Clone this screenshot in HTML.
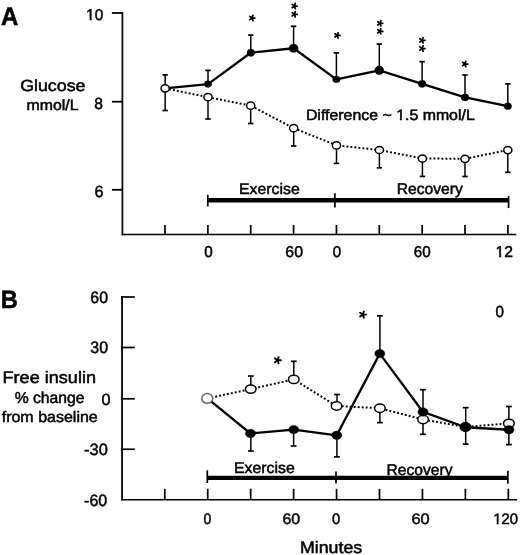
<!DOCTYPE html>
<html><head><meta charset="utf-8"><title>Figure</title><style>
html,body{margin:0;padding:0;background:#fff;}
svg{display:block;will-change:transform;}
text{font-family:"Liberation Sans",sans-serif;fill:#000;stroke:#000;stroke-width:0.5px;text-rendering:geometricPrecision;}
</style></head><body>
<svg width="520" height="555" viewBox="0 0 520 555">
<rect width="520" height="555" fill="#fff"/>
<line x1="122.40" y1="12.10" x2="122.40" y2="235.30" stroke="#000" stroke-width="1.7" stroke-linecap="butt"/>
<line x1="111.90" y1="13.00" x2="122.40" y2="13.00" stroke="#000" stroke-width="1.8" stroke-linecap="butt"/>
<line x1="111.90" y1="101.70" x2="122.40" y2="101.70" stroke="#000" stroke-width="1.8" stroke-linecap="butt"/>
<line x1="111.90" y1="189.80" x2="122.40" y2="189.80" stroke="#000" stroke-width="1.8" stroke-linecap="butt"/>
<line x1="121.55" y1="234.50" x2="516.30" y2="234.50" stroke="#000" stroke-width="1.6" stroke-linecap="butt"/>
<line x1="165.00" y1="225.00" x2="165.00" y2="234.50" stroke="#000" stroke-width="1.7" stroke-linecap="butt"/>
<line x1="207.86" y1="225.00" x2="207.86" y2="234.50" stroke="#000" stroke-width="1.7" stroke-linecap="butt"/>
<line x1="250.72" y1="225.00" x2="250.72" y2="234.50" stroke="#000" stroke-width="1.7" stroke-linecap="butt"/>
<line x1="293.58" y1="225.00" x2="293.58" y2="234.50" stroke="#000" stroke-width="1.7" stroke-linecap="butt"/>
<line x1="336.44" y1="225.00" x2="336.44" y2="234.50" stroke="#000" stroke-width="1.7" stroke-linecap="butt"/>
<line x1="379.30" y1="225.00" x2="379.30" y2="234.50" stroke="#000" stroke-width="1.7" stroke-linecap="butt"/>
<line x1="422.16" y1="225.00" x2="422.16" y2="234.50" stroke="#000" stroke-width="1.7" stroke-linecap="butt"/>
<line x1="465.02" y1="225.00" x2="465.02" y2="234.50" stroke="#000" stroke-width="1.7" stroke-linecap="butt"/>
<line x1="507.88" y1="225.00" x2="507.88" y2="234.50" stroke="#000" stroke-width="1.7" stroke-linecap="butt"/>
<line x1="207.80" y1="200.30" x2="508.60" y2="200.30" stroke="#000" stroke-width="4.5" stroke-linecap="butt"/>
<line x1="207.80" y1="194.80" x2="207.80" y2="206.50" stroke="#000" stroke-width="1.7" stroke-linecap="butt"/>
<line x1="334.90" y1="193.20" x2="334.90" y2="207.60" stroke="#000" stroke-width="1.7" stroke-linecap="butt"/>
<line x1="508.60" y1="196.10" x2="508.60" y2="208.10" stroke="#000" stroke-width="1.7" stroke-linecap="butt"/>
<line x1="165.15" y1="88.35" x2="165.15" y2="110.50" stroke="#000" stroke-width="1.5" stroke-linecap="butt"/>
<line x1="162.45" y1="110.50" x2="167.85" y2="110.50" stroke="#000" stroke-width="1.7" stroke-linecap="butt"/>
<line x1="208.00" y1="97.20" x2="208.00" y2="119.00" stroke="#000" stroke-width="1.5" stroke-linecap="butt"/>
<line x1="205.30" y1="119.00" x2="210.70" y2="119.00" stroke="#000" stroke-width="1.7" stroke-linecap="butt"/>
<line x1="250.70" y1="105.65" x2="250.70" y2="123.50" stroke="#000" stroke-width="1.5" stroke-linecap="butt"/>
<line x1="248.00" y1="123.50" x2="253.40" y2="123.50" stroke="#000" stroke-width="1.7" stroke-linecap="butt"/>
<line x1="293.70" y1="128.15" x2="293.70" y2="146.00" stroke="#000" stroke-width="1.5" stroke-linecap="butt"/>
<line x1="291.00" y1="146.00" x2="296.40" y2="146.00" stroke="#000" stroke-width="1.7" stroke-linecap="butt"/>
<line x1="336.50" y1="145.40" x2="336.50" y2="163.40" stroke="#000" stroke-width="1.5" stroke-linecap="butt"/>
<line x1="333.80" y1="163.40" x2="339.20" y2="163.40" stroke="#000" stroke-width="1.7" stroke-linecap="butt"/>
<line x1="379.40" y1="150.00" x2="379.40" y2="167.80" stroke="#000" stroke-width="1.5" stroke-linecap="butt"/>
<line x1="376.70" y1="167.80" x2="382.10" y2="167.80" stroke="#000" stroke-width="1.7" stroke-linecap="butt"/>
<line x1="422.40" y1="158.50" x2="422.40" y2="176.40" stroke="#000" stroke-width="1.5" stroke-linecap="butt"/>
<line x1="419.70" y1="176.40" x2="425.10" y2="176.40" stroke="#000" stroke-width="1.7" stroke-linecap="butt"/>
<line x1="465.00" y1="158.80" x2="465.00" y2="176.50" stroke="#000" stroke-width="1.5" stroke-linecap="butt"/>
<line x1="462.30" y1="176.50" x2="467.70" y2="176.50" stroke="#000" stroke-width="1.7" stroke-linecap="butt"/>
<line x1="507.80" y1="150.05" x2="507.80" y2="172.30" stroke="#000" stroke-width="1.5" stroke-linecap="butt"/>
<line x1="505.10" y1="172.30" x2="510.50" y2="172.30" stroke="#000" stroke-width="1.7" stroke-linecap="butt"/>
<line x1="165.15" y1="88.35" x2="165.15" y2="74.90" stroke="#000" stroke-width="1.5" stroke-linecap="butt"/>
<line x1="162.45" y1="74.90" x2="167.85" y2="74.90" stroke="#000" stroke-width="1.7" stroke-linecap="butt"/>
<line x1="208.00" y1="84.10" x2="208.00" y2="70.40" stroke="#000" stroke-width="1.5" stroke-linecap="butt"/>
<line x1="205.30" y1="70.40" x2="210.70" y2="70.40" stroke="#000" stroke-width="1.7" stroke-linecap="butt"/>
<line x1="250.80" y1="52.75" x2="250.80" y2="35.10" stroke="#000" stroke-width="1.5" stroke-linecap="butt"/>
<line x1="248.10" y1="35.10" x2="253.50" y2="35.10" stroke="#000" stroke-width="1.7" stroke-linecap="butt"/>
<line x1="293.60" y1="48.25" x2="293.60" y2="26.25" stroke="#000" stroke-width="1.5" stroke-linecap="butt"/>
<line x1="290.90" y1="26.25" x2="296.30" y2="26.25" stroke="#000" stroke-width="1.7" stroke-linecap="butt"/>
<line x1="336.40" y1="79.40" x2="336.40" y2="52.90" stroke="#000" stroke-width="1.5" stroke-linecap="butt"/>
<line x1="333.70" y1="52.90" x2="339.10" y2="52.90" stroke="#000" stroke-width="1.7" stroke-linecap="butt"/>
<line x1="379.30" y1="70.35" x2="379.30" y2="44.10" stroke="#000" stroke-width="1.5" stroke-linecap="butt"/>
<line x1="376.60" y1="44.10" x2="382.00" y2="44.10" stroke="#000" stroke-width="1.7" stroke-linecap="butt"/>
<line x1="422.10" y1="83.85" x2="422.10" y2="61.65" stroke="#000" stroke-width="1.5" stroke-linecap="butt"/>
<line x1="419.40" y1="61.65" x2="424.80" y2="61.65" stroke="#000" stroke-width="1.7" stroke-linecap="butt"/>
<line x1="465.00" y1="97.40" x2="465.00" y2="75.00" stroke="#000" stroke-width="1.5" stroke-linecap="butt"/>
<line x1="462.30" y1="75.00" x2="467.70" y2="75.00" stroke="#000" stroke-width="1.7" stroke-linecap="butt"/>
<line x1="507.80" y1="106.20" x2="507.80" y2="83.90" stroke="#000" stroke-width="1.5" stroke-linecap="butt"/>
<line x1="505.10" y1="83.90" x2="510.50" y2="83.90" stroke="#000" stroke-width="1.7" stroke-linecap="butt"/>
<polyline points="165.15,88.35 208.00,97.20 250.70,105.65 293.70,128.15 336.50,145.40 379.40,150.00 422.40,158.50 465.00,158.80 507.80,150.05" fill="none" stroke="#000" stroke-width="2.0" stroke-linejoin="round" stroke-dasharray="1.9 2.1" stroke-linecap="butt"/>
<polyline points="165.15,88.35 208.00,84.10 250.80,52.75 293.60,48.25 336.40,79.40 379.30,70.35 422.10,83.85 465.00,97.40 507.80,106.20" fill="none" stroke="#000" stroke-width="2.3" stroke-linejoin="round" />
<ellipse cx="165.15" cy="88.35" rx="4.10" ry="3.60" fill="#fff" stroke="#000" stroke-width="1.5"/>
<ellipse cx="208.00" cy="97.20" rx="4.10" ry="3.60" fill="#fff" stroke="#000" stroke-width="1.5"/>
<ellipse cx="250.70" cy="105.65" rx="4.10" ry="3.60" fill="#fff" stroke="#000" stroke-width="1.5"/>
<ellipse cx="293.70" cy="128.15" rx="4.10" ry="3.60" fill="#fff" stroke="#000" stroke-width="1.5"/>
<ellipse cx="336.50" cy="145.40" rx="4.10" ry="3.60" fill="#fff" stroke="#000" stroke-width="1.5"/>
<ellipse cx="379.40" cy="150.00" rx="4.10" ry="3.60" fill="#fff" stroke="#000" stroke-width="1.5"/>
<ellipse cx="422.40" cy="158.50" rx="4.10" ry="3.60" fill="#fff" stroke="#000" stroke-width="1.5"/>
<ellipse cx="465.00" cy="158.80" rx="4.10" ry="3.60" fill="#fff" stroke="#000" stroke-width="1.5"/>
<ellipse cx="507.80" cy="150.05" rx="4.10" ry="3.60" fill="#fff" stroke="#000" stroke-width="1.5"/>
<ellipse cx="208.00" cy="84.10" rx="3.75" ry="3.40" fill="#000" stroke="#000" stroke-width="0.3"/>
<ellipse cx="250.80" cy="52.75" rx="3.85" ry="3.70" fill="#000" stroke="#000" stroke-width="0.3"/>
<ellipse cx="293.60" cy="48.25" rx="4.60" ry="4.30" fill="#000" stroke="#000" stroke-width="0.3"/>
<ellipse cx="336.40" cy="79.40" rx="3.80" ry="3.30" fill="#000" stroke="#000" stroke-width="0.3"/>
<ellipse cx="379.30" cy="70.35" rx="4.50" ry="4.50" fill="#000" stroke="#000" stroke-width="0.3"/>
<ellipse cx="422.10" cy="83.85" rx="3.90" ry="3.70" fill="#000" stroke="#000" stroke-width="0.3"/>
<ellipse cx="465.00" cy="97.40" rx="3.90" ry="3.55" fill="#000" stroke="#000" stroke-width="0.3"/>
<ellipse cx="507.80" cy="106.20" rx="3.85" ry="3.40" fill="#000" stroke="#000" stroke-width="0.3"/>
<path d="M252.10,18.00L254.90,18.00M252.10,18.00L252.97,15.34M252.10,18.00L249.83,16.35M252.10,18.00L249.83,19.65M252.10,18.00L252.97,20.66" stroke="#000" stroke-width="1.75" stroke-linecap="round" fill="none"/>
<path d="M294.40,6.05L297.20,6.05M294.40,6.05L295.27,3.39M294.40,6.05L292.13,4.40M294.40,6.05L292.13,7.70M294.40,6.05L295.27,8.71" stroke="#000" stroke-width="1.75" stroke-linecap="round" fill="none"/>
<path d="M294.40,14.30L297.20,14.30M294.40,14.30L295.27,11.64M294.40,14.30L292.13,12.65M294.40,14.30L292.13,15.95M294.40,14.30L295.27,16.96" stroke="#000" stroke-width="1.75" stroke-linecap="round" fill="none"/>
<path d="M337.25,35.40L340.05,35.40M337.25,35.40L338.12,32.74M337.25,35.40L334.98,33.75M337.25,35.40L334.98,37.05M337.25,35.40L338.12,38.06" stroke="#000" stroke-width="1.75" stroke-linecap="round" fill="none"/>
<path d="M380.00,23.35L382.80,23.35M380.00,23.35L380.87,20.69M380.00,23.35L377.73,21.70M380.00,23.35L377.73,25.00M380.00,23.35L380.87,26.01" stroke="#000" stroke-width="1.75" stroke-linecap="round" fill="none"/>
<path d="M380.00,31.40L382.80,31.40M380.00,31.40L380.87,28.74M380.00,31.40L377.73,29.75M380.00,31.40L377.73,33.05M380.00,31.40L380.87,34.06" stroke="#000" stroke-width="1.75" stroke-linecap="round" fill="none"/>
<path d="M422.20,40.35L425.00,40.35M422.20,40.35L423.07,37.69M422.20,40.35L419.93,38.70M422.20,40.35L419.93,42.00M422.20,40.35L423.07,43.01" stroke="#000" stroke-width="1.75" stroke-linecap="round" fill="none"/>
<path d="M422.20,48.50L425.00,48.50M422.20,48.50L423.07,45.84M422.20,48.50L419.93,46.85M422.20,48.50L419.93,50.15M422.20,48.50L423.07,51.16" stroke="#000" stroke-width="1.75" stroke-linecap="round" fill="none"/>
<path d="M464.90,64.00L467.70,64.00M464.90,64.00L465.77,61.34M464.90,64.00L462.63,62.35M464.90,64.00L462.63,65.65M464.90,64.00L465.77,66.66" stroke="#000" stroke-width="1.75" stroke-linecap="round" fill="none"/>
<line x1="122.05" y1="296.20" x2="122.05" y2="500.50" stroke="#000" stroke-width="1.8" stroke-linecap="butt"/>
<line x1="121.15" y1="297.00" x2="134.80" y2="297.00" stroke="#000" stroke-width="1.7" stroke-linecap="butt"/>
<line x1="121.15" y1="347.50" x2="134.80" y2="347.50" stroke="#000" stroke-width="1.7" stroke-linecap="butt"/>
<line x1="121.15" y1="398.80" x2="134.80" y2="398.80" stroke="#000" stroke-width="1.7" stroke-linecap="butt"/>
<line x1="121.15" y1="449.25" x2="134.80" y2="449.25" stroke="#000" stroke-width="1.7" stroke-linecap="butt"/>
<line x1="121.15" y1="499.70" x2="517.10" y2="499.70" stroke="#000" stroke-width="1.6" stroke-linecap="butt"/>
<line x1="164.80" y1="488.80" x2="164.80" y2="499.70" stroke="#000" stroke-width="1.7" stroke-linecap="butt"/>
<line x1="207.74" y1="488.80" x2="207.74" y2="499.70" stroke="#000" stroke-width="1.7" stroke-linecap="butt"/>
<line x1="250.68" y1="488.80" x2="250.68" y2="499.70" stroke="#000" stroke-width="1.7" stroke-linecap="butt"/>
<line x1="293.62" y1="488.80" x2="293.62" y2="499.70" stroke="#000" stroke-width="1.7" stroke-linecap="butt"/>
<line x1="336.56" y1="488.80" x2="336.56" y2="499.70" stroke="#000" stroke-width="1.7" stroke-linecap="butt"/>
<line x1="379.50" y1="488.80" x2="379.50" y2="499.70" stroke="#000" stroke-width="1.7" stroke-linecap="butt"/>
<line x1="422.44" y1="488.80" x2="422.44" y2="499.70" stroke="#000" stroke-width="1.7" stroke-linecap="butt"/>
<line x1="465.38" y1="488.80" x2="465.38" y2="499.70" stroke="#000" stroke-width="1.7" stroke-linecap="butt"/>
<line x1="508.32" y1="488.80" x2="508.32" y2="499.70" stroke="#000" stroke-width="1.7" stroke-linecap="butt"/>
<line x1="207.30" y1="477.80" x2="507.90" y2="477.80" stroke="#000" stroke-width="4.3" stroke-linecap="butt"/>
<line x1="207.30" y1="470.30" x2="207.30" y2="483.00" stroke="#000" stroke-width="1.7" stroke-linecap="butt"/>
<line x1="336.00" y1="471.60" x2="336.00" y2="483.50" stroke="#000" stroke-width="1.7" stroke-linecap="butt"/>
<line x1="507.90" y1="470.80" x2="507.90" y2="483.75" stroke="#000" stroke-width="1.7" stroke-linecap="butt"/>
<line x1="250.80" y1="389.10" x2="250.80" y2="376.05" stroke="#000" stroke-width="1.5" stroke-linecap="butt"/>
<line x1="247.90" y1="376.05" x2="253.70" y2="376.05" stroke="#000" stroke-width="1.7" stroke-linecap="butt"/>
<line x1="293.80" y1="379.40" x2="293.80" y2="361.30" stroke="#000" stroke-width="1.5" stroke-linecap="butt"/>
<line x1="290.90" y1="361.30" x2="296.70" y2="361.30" stroke="#000" stroke-width="1.7" stroke-linecap="butt"/>
<line x1="337.00" y1="406.00" x2="337.00" y2="394.50" stroke="#000" stroke-width="1.5" stroke-linecap="butt"/>
<line x1="334.10" y1="394.50" x2="339.90" y2="394.50" stroke="#000" stroke-width="1.7" stroke-linecap="butt"/>
<line x1="379.90" y1="408.25" x2="379.90" y2="422.60" stroke="#000" stroke-width="1.5" stroke-linecap="butt"/>
<line x1="377.00" y1="422.60" x2="382.80" y2="422.60" stroke="#000" stroke-width="1.7" stroke-linecap="butt"/>
<line x1="423.00" y1="419.50" x2="423.00" y2="434.30" stroke="#000" stroke-width="1.5" stroke-linecap="butt"/>
<line x1="420.10" y1="434.30" x2="425.90" y2="434.30" stroke="#000" stroke-width="1.7" stroke-linecap="butt"/>
<line x1="508.90" y1="423.40" x2="508.90" y2="406.50" stroke="#000" stroke-width="1.5" stroke-linecap="butt"/>
<line x1="506.00" y1="406.50" x2="511.80" y2="406.50" stroke="#000" stroke-width="1.7" stroke-linecap="butt"/>
<line x1="250.85" y1="433.50" x2="250.85" y2="451.00" stroke="#000" stroke-width="1.5" stroke-linecap="butt"/>
<line x1="247.95" y1="451.00" x2="253.75" y2="451.00" stroke="#000" stroke-width="1.7" stroke-linecap="butt"/>
<line x1="293.60" y1="429.60" x2="293.60" y2="446.00" stroke="#000" stroke-width="1.5" stroke-linecap="butt"/>
<line x1="290.70" y1="446.00" x2="296.50" y2="446.00" stroke="#000" stroke-width="1.7" stroke-linecap="butt"/>
<line x1="336.90" y1="435.30" x2="336.90" y2="456.85" stroke="#000" stroke-width="1.5" stroke-linecap="butt"/>
<line x1="334.00" y1="456.85" x2="339.80" y2="456.85" stroke="#000" stroke-width="1.7" stroke-linecap="butt"/>
<line x1="379.90" y1="353.65" x2="379.90" y2="315.80" stroke="#000" stroke-width="1.5" stroke-linecap="butt"/>
<line x1="377.00" y1="315.80" x2="382.80" y2="315.80" stroke="#000" stroke-width="1.7" stroke-linecap="butt"/>
<line x1="423.00" y1="411.95" x2="423.00" y2="389.70" stroke="#000" stroke-width="1.5" stroke-linecap="butt"/>
<line x1="420.10" y1="389.70" x2="425.90" y2="389.70" stroke="#000" stroke-width="1.7" stroke-linecap="butt"/>
<line x1="465.70" y1="427.25" x2="465.70" y2="407.65" stroke="#000" stroke-width="1.5" stroke-linecap="butt"/>
<line x1="462.80" y1="407.65" x2="468.60" y2="407.65" stroke="#000" stroke-width="1.7" stroke-linecap="butt"/>
<line x1="465.70" y1="427.25" x2="465.70" y2="444.10" stroke="#000" stroke-width="1.5" stroke-linecap="butt"/>
<line x1="462.80" y1="444.10" x2="468.60" y2="444.10" stroke="#000" stroke-width="1.7" stroke-linecap="butt"/>
<line x1="508.90" y1="429.75" x2="508.90" y2="444.60" stroke="#000" stroke-width="1.5" stroke-linecap="butt"/>
<line x1="506.00" y1="444.60" x2="511.80" y2="444.60" stroke="#000" stroke-width="1.7" stroke-linecap="butt"/>
<polyline points="207.40,398.40 250.75,389.10 293.75,379.40 336.60,406.00 379.90,408.25 423.10,419.50 465.50,427.00 508.90,423.40" fill="none" stroke="#000" stroke-width="2.0" stroke-linejoin="round" stroke-dasharray="1.9 2.1" stroke-linecap="butt"/>
<polyline points="207.40,398.40 250.50,433.50 293.70,429.60 336.75,435.30 379.80,353.65 423.00,411.95 465.55,427.25 508.95,429.75" fill="none" stroke="#000" stroke-width="2.3" stroke-linejoin="round" />
<ellipse cx="250.75" cy="389.10" rx="5.30" ry="4.20" fill="#fff" stroke="#000" stroke-width="1.5"/>
<ellipse cx="293.75" cy="379.40" rx="5.30" ry="4.20" fill="#fff" stroke="#000" stroke-width="1.5"/>
<ellipse cx="336.60" cy="406.00" rx="5.30" ry="4.20" fill="#fff" stroke="#000" stroke-width="1.5"/>
<ellipse cx="379.90" cy="408.25" rx="5.30" ry="4.20" fill="#fff" stroke="#000" stroke-width="1.5"/>
<ellipse cx="423.10" cy="419.50" rx="5.30" ry="4.20" fill="#fff" stroke="#000" stroke-width="1.5"/>
<ellipse cx="465.50" cy="427.00" rx="5.30" ry="4.20" fill="#fff" stroke="#000" stroke-width="1.5"/>
<ellipse cx="508.90" cy="423.40" rx="5.30" ry="4.20" fill="#fff" stroke="#000" stroke-width="1.5"/>
<ellipse cx="207.30" cy="398.45" rx="5.45" ry="4.85" fill="#fff" stroke="#666" stroke-width="1.5"/>
<ellipse cx="250.50" cy="433.50" rx="5.10" ry="4.20" fill="#000" stroke="#000" stroke-width="0.4"/>
<ellipse cx="293.70" cy="429.60" rx="5.10" ry="4.20" fill="#000" stroke="#000" stroke-width="0.4"/>
<ellipse cx="336.75" cy="435.30" rx="5.10" ry="4.20" fill="#000" stroke="#000" stroke-width="0.4"/>
<ellipse cx="379.80" cy="353.65" rx="5.10" ry="4.20" fill="#000" stroke="#000" stroke-width="0.4"/>
<ellipse cx="423.00" cy="411.95" rx="5.10" ry="4.20" fill="#000" stroke="#000" stroke-width="0.4"/>
<ellipse cx="465.55" cy="427.25" rx="5.10" ry="4.20" fill="#000" stroke="#000" stroke-width="0.4"/>
<ellipse cx="508.95" cy="429.75" rx="5.10" ry="4.20" fill="#000" stroke="#000" stroke-width="0.4"/>
<path d="M277.60,360.30L280.90,360.30M277.60,360.30L278.62,357.16M277.60,360.30L274.93,358.36M277.60,360.30L274.93,362.24M277.60,360.30L278.62,363.44" stroke="#000" stroke-width="1.9" stroke-linecap="round" fill="none"/>
<path d="M362.80,314.60L366.10,314.60M362.80,314.60L363.82,311.46M362.80,314.60L360.13,312.66M362.80,314.60L360.13,316.54M362.80,314.60L363.82,317.74" stroke="#000" stroke-width="1.9" stroke-linecap="round" fill="none"/>
<text x="0.9" y="25.25" font-size="25.35" font-weight="bold" textLength="17.35" lengthAdjust="spacingAndGlyphs">A</text>
<text x="0.65" y="308.25" font-size="24.94" font-weight="bold" textLength="17.1" lengthAdjust="spacingAndGlyphs">B</text>
<text x="86.1" y="19.85" font-size="15.5" font-weight="normal" textLength="17.15" lengthAdjust="spacingAndGlyphs">10</text>
<text x="94.3" y="108.85" font-size="16.05" font-weight="normal" textLength="8.7" lengthAdjust="spacingAndGlyphs">8</text>
<text x="94.5" y="197.25" font-size="16.25" font-weight="normal" textLength="9.0" lengthAdjust="spacingAndGlyphs">6</text>
<text x="20.15" y="90.75" font-size="16.15" font-weight="normal" textLength="65.35" lengthAdjust="spacingAndGlyphs">Glucose</text>
<text x="26.55" y="110.45" font-size="14.76" font-weight="normal" textLength="51.95" lengthAdjust="spacingAndGlyphs">mmol/L</text>
<text x="305.9" y="120.35" font-size="14.99" font-weight="normal" textLength="168.85" lengthAdjust="spacingAndGlyphs">Difference ~ 1.5 mmol/L</text>
<text x="239.0" y="194.15" font-size="15.31" font-weight="normal" textLength="60.75" lengthAdjust="spacingAndGlyphs">Exercise</text>
<text x="396.75" y="194.05" font-size="15.56" font-weight="normal" textLength="66.0" lengthAdjust="spacingAndGlyphs">Recovery</text>
<text x="204.25" y="257.05" font-size="15.63" font-weight="normal" textLength="8.5" lengthAdjust="spacingAndGlyphs">0</text>
<text x="285.3" y="257.05" font-size="15.63" font-weight="normal" textLength="17.7" lengthAdjust="spacingAndGlyphs">60</text>
<text x="332.85" y="257.05" font-size="15.63" font-weight="normal" textLength="8.4" lengthAdjust="spacingAndGlyphs">0</text>
<text x="413.8" y="257.05" font-size="15.63" font-weight="normal" textLength="16.95" lengthAdjust="spacingAndGlyphs">60</text>
<text x="495.5" y="257.05" font-size="15.63" font-weight="normal" textLength="17.5" lengthAdjust="spacingAndGlyphs">12</text>
<text x="90.3" y="303.25" font-size="16.39" font-weight="normal" textLength="17.7" lengthAdjust="spacingAndGlyphs">60</text>
<text x="90.3" y="353.45" font-size="16.67" font-weight="normal" textLength="17.7" lengthAdjust="spacingAndGlyphs">30</text>
<text x="101.5" y="405.05" font-size="16.19" font-weight="normal" textLength="9.0" lengthAdjust="spacingAndGlyphs">0</text>
<text x="84.1" y="455.25" font-size="16.32" font-weight="normal" textLength="23.65" lengthAdjust="spacingAndGlyphs">-30</text>
<text x="84.1" y="506.45" font-size="16.53" font-weight="normal" textLength="23.15" lengthAdjust="spacingAndGlyphs">-60</text>
<text x="2.55" y="383.05" font-size="16.7" font-weight="normal" textLength="93.45" lengthAdjust="spacingAndGlyphs">Free insulin</text>
<text x="14.65" y="403.35" font-size="15.82" font-weight="normal" textLength="69.85" lengthAdjust="spacingAndGlyphs">% change</text>
<text x="1.7" y="422.05" font-size="15.31" font-weight="normal" textLength="96.05" lengthAdjust="spacingAndGlyphs">from baseline</text>
<text x="495.55" y="316.65" font-size="16.11" font-weight="normal" textLength="8.45" lengthAdjust="spacingAndGlyphs">0</text>
<text x="233.9" y="473.45" font-size="15.46" font-weight="normal" textLength="60.85" lengthAdjust="spacingAndGlyphs">Exercise</text>
<text x="386.5" y="474.75" font-size="15.56" font-weight="normal" textLength="66.0" lengthAdjust="spacingAndGlyphs">Recovery</text>
<text x="203.45" y="523.55" font-size="15.08" font-weight="normal" textLength="7.8" lengthAdjust="spacingAndGlyphs">0</text>
<text x="282.5" y="523.55" font-size="15.08" font-weight="normal" textLength="17.75" lengthAdjust="spacingAndGlyphs">60</text>
<text x="332.05" y="523.55" font-size="15.08" font-weight="normal" textLength="8.2" lengthAdjust="spacingAndGlyphs">0</text>
<text x="411.5" y="523.55" font-size="15.08" font-weight="normal" textLength="18.25" lengthAdjust="spacingAndGlyphs">60</text>
<text x="493.2" y="523.55" font-size="15.08" font-weight="normal" textLength="24.8" lengthAdjust="spacingAndGlyphs">120</text>
<text x="299.95" y="553.25" font-size="16.69" font-weight="normal" textLength="62.3" lengthAdjust="spacingAndGlyphs">Minutes</text>
<rect x="86.00" y="18.00" width="3.68" height="3.00" fill="#fff"/>
<rect x="91.64" y="18.00" width="3.36" height="3.00" fill="#fff"/>
<rect x="396.00" y="118.00" width="3.84" height="3.00" fill="#fff"/>
<rect x="401.85" y="118.00" width="3.15" height="3.00" fill="#fff"/>
<rect x="496.00" y="255.00" width="3.16" height="3.00" fill="#fff"/>
<rect x="501.15" y="255.00" width="2.85" height="3.00" fill="#fff"/>
<rect x="493.00" y="522.00" width="3.64" height="3.00" fill="#fff"/>
<rect x="498.55" y="522.00" width="3.45" height="3.00" fill="#fff"/>
</svg>
</body></html>
